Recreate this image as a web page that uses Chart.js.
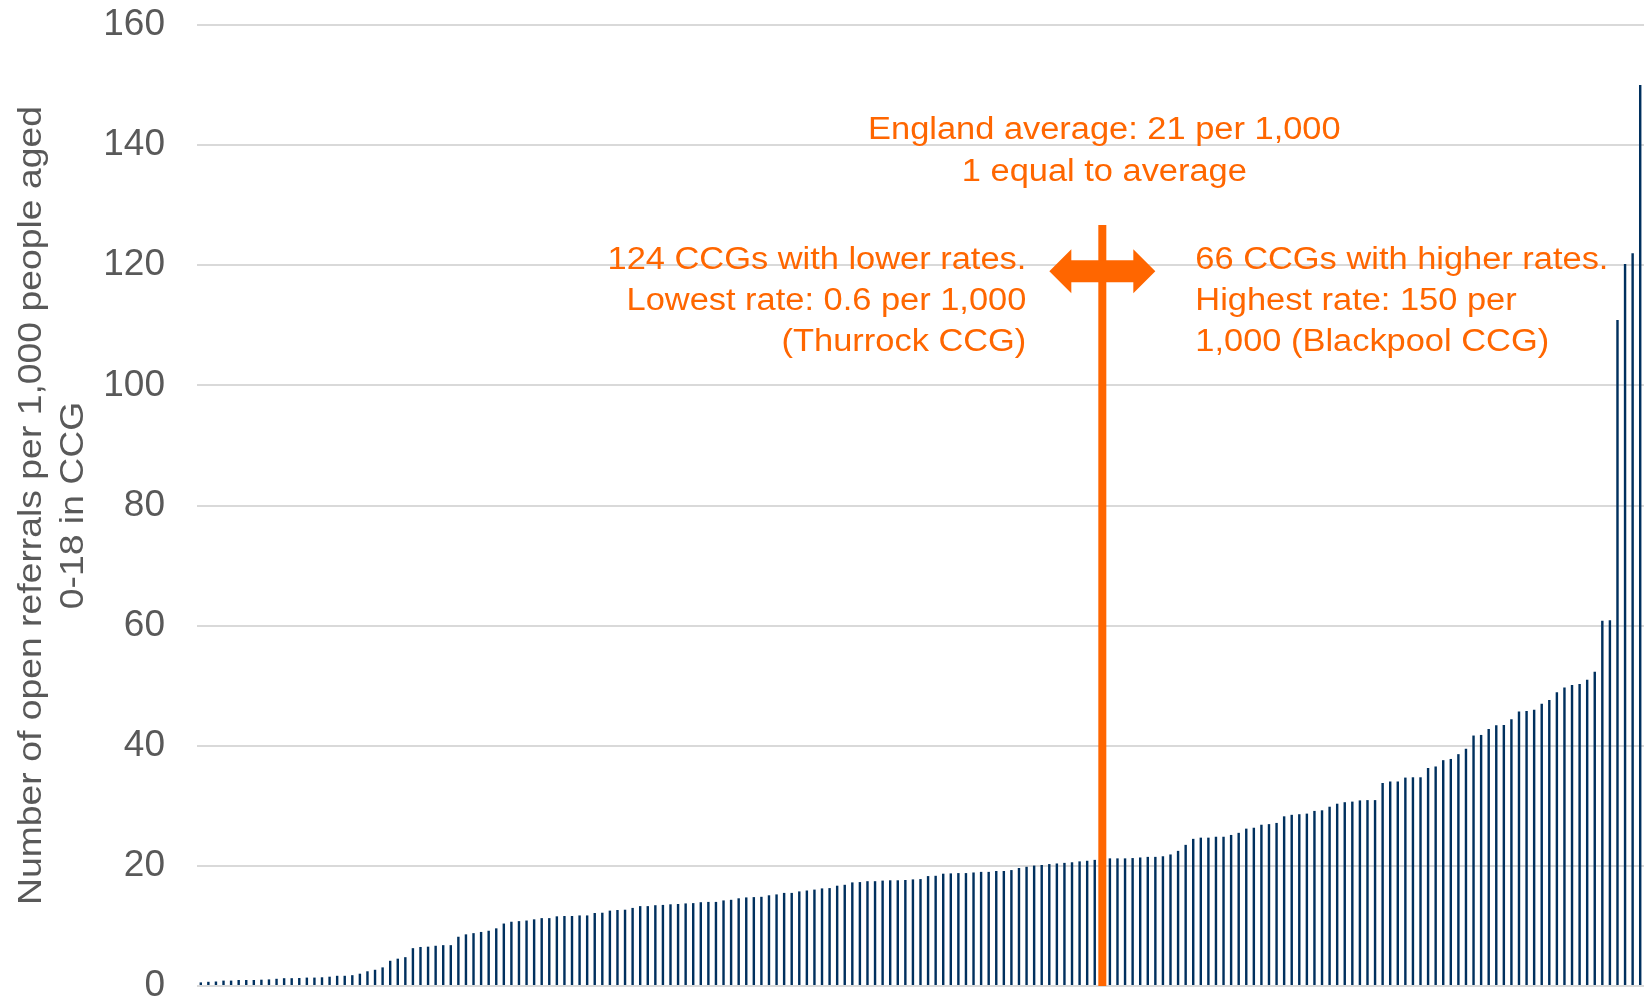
<!DOCTYPE html>
<html>
<head>
<meta charset="utf-8">
<script src="https://cdn.jsdelivr.net/npm/chart.js@4.4.1/dist/chart.umd.min.js"></script>
<style>
  html, body { margin: 0; padding: 0; background: #fff; }
  #wrap { width: 1644px; height: 1000px; }
</style>
</head>
<body>
<div id="wrap"><canvas id="chart" width="1644" height="1000"></canvas></div>
<script>
// open referrals per 1,000 people aged 0-18, one bar per CCG, sorted low to high
const rates = [
  0.6, 0.7, 0.75, 0.9, 0.9, 1.0, 1.0, 1.0, 1.05, 1.1, 1.2, 1.3, 1.3, 1.33, 1.4, 1.4, 1.45, 1.55, 1.7, 1.7,
  1.8, 2.05, 2.45, 2.7, 3.1, 4.2, 4.55, 4.8, 6.3, 6.5, 6.55, 6.7, 6.8, 6.8, 8.2, 8.6, 8.8, 9.0, 9.2,
  9.6, 10.4, 10.7, 10.8, 10.9, 11.1, 11.3, 11.3, 11.6, 11.65, 11.65, 11.75, 11.75, 12.15, 12.2, 12.55,
  12.65, 12.7, 13.0, 13.3, 13.3, 13.45, 13.5, 13.6, 13.65, 13.75, 13.8, 13.95, 14.0, 14.0, 14.25, 14.35,
  14.6, 14.75, 14.8, 14.85, 15.1, 15.25,
  15.5, 15.5, 15.75, 15.9, 16.05, 16.25, 16.3, 16.7, 16.85, 17.25, 17.3, 17.45, 17.45, 17.55, 17.6, 17.6,
  17.65, 17.75, 17.8, 18.3, 18.35, 18.7, 18.75, 18.8, 18.8, 18.9, 19.0, 19.0, 19.15, 19.15, 19.3, 19.65,
  19.85, 20.05, 20.15, 20.3, 20.4, 20.5,
  20.6, 20.75, 20.85, 21.0, 21.0, 21.25, 21.25, 21.25, 21.3, 21.4, 21.5, 21.5, 21.6, 21.9, 22.5, 23.5,
  24.5, 24.7, 24.7, 24.85, 24.85, 25.15, 25.5, 26.2, 26.35, 26.85, 26.95, 27.15, 28.25, 28.5, 28.6, 28.7,
  29.15, 29.25, 29.85, 30.35, 30.6, 30.7,
  30.9, 30.95, 30.95, 33.8, 34.05, 34.05, 34.7, 34.75, 34.75, 36.3, 36.55, 37.6, 37.8, 38.6, 39.5, 41.7,
  41.8, 42.8, 43.4, 43.45, 44.4, 45.7, 45.8, 46.0, 47.0, 47.6, 48.9, 49.7, 50.1, 50.3, 51.0, 52.3, 60.8,
  60.9, 110.9, 120.2, 122.0, 150
];
const ccgLabels = rates.map((_, i) => "CCG " + (i + 1));
const yTicks = [0, 20, 40, 60, 80, 100, 120, 140, 160];

const titleLines = ["Number of open referrals per 1,000 people aged", "0-18 in CCG"];
const averageIndex = 119;        // bar that equals the England average
const averageLineTop = 126.7;    // y value where the orange marker starts
const arrowValue = 119;          // y value of the double arrow
const averageNote = ["England average: 21 per 1,000", "1 equal to average"];
const lowerNote = ["124 CCGs with lower rates.", "Lowest rate: 0.6 per 1,000", "(Thurrock CCG)"];
const higherNote = ["66 CCGs with higher rates.", "Highest rate: 150 per", "1,000 (Blackpool CCG)"];

const ORANGE = "#ff6600";
const NAVY = "#00305e";
const GREY_TEXT = "#595959";
const FONT = "'Liberation Sans', Arial, sans-serif";

function wideText(ctx, str, x, y, align) {
  ctx.save();
  ctx.translate(x, y);
  ctx.scale(1.11, 1);
  ctx.textAlign = align;
  ctx.textBaseline = "alphabetic";
  ctx.fillText(str, 0, 0);
  ctx.restore();
}

const overlay = {
  id: "overlay",
  afterDraw(chart) {
    const ctx = chart.ctx;
    const x = chart.scales.x, y = chart.scales.y;
    const lx = x.getPixelForValue(averageIndex);
    const top = y.getPixelForValue(averageLineTop);
    const base = y.getPixelForValue(0);
    const cy = y.getPixelForValue(arrowValue);

    ctx.save();
    ctx.fillStyle = ORANGE;
    ctx.fillRect(lx - 4, top, 8, base - top);

    // double headed arrow
    ctx.beginPath();
    ctx.moveTo(lx - 53, cy);
    ctx.lineTo(lx - 31, cy - 22);
    ctx.lineTo(lx - 31, cy - 11);
    ctx.lineTo(lx + 31, cy - 11);
    ctx.lineTo(lx + 31, cy - 22);
    ctx.lineTo(lx + 53, cy);
    ctx.lineTo(lx + 31, cy + 22);
    ctx.lineTo(lx + 31, cy + 11);
    ctx.lineTo(lx - 31, cy + 11);
    ctx.lineTo(lx - 31, cy + 22);
    ctx.closePath();
    ctx.fill();

    ctx.font = "31px " + FONT;
    averageNote.forEach((s, i) => wideText(ctx, s, lx + 2, cy - 132 + i * 42, "center"));
    lowerNote.forEach((s, i) => wideText(ctx, s, lx - 76, cy - 2 + i * 41, "right"));
    higherNote.forEach((s, i) => wideText(ctx, s, lx + 93, cy - 2 + i * 41, "left"));

    // rotated axis title, squeezed along its length like the original
    ctx.fillStyle = GREY_TEXT;
    ctx.font = "34px " + FONT;
    const mid = (chart.chartArea.top + chart.chartArea.bottom) / 2;
    const sx = 799 / ctx.measureText(titleLines[0]).width;
    [32, 74].forEach((px, i) => {
      ctx.save();
      ctx.translate(px, mid);
      ctx.rotate(-Math.PI / 2);
      ctx.scale(sx, 1);
      ctx.textAlign = "center";
      ctx.textBaseline = "middle";
      ctx.fillText(titleLines[i], 0, 0);
      ctx.restore();
    });
    ctx.restore();
  }
};

new Chart(document.getElementById("chart"), {
  type: "bar",
  data: {
    labels: ccgLabels,
    datasets: [{
      data: rates,
      backgroundColor: NAVY,
      borderWidth: 0,
      barPercentage: 0.32,
      categoryPercentage: 1
    }]
  },
  options: {
    responsive: false,
    animation: false,
    devicePixelRatio: 1,
    layout: { padding: { top: 25, bottom: 14, left: 0, right: 0 } },
    plugins: { legend: { display: false }, tooltip: { enabled: false } },
    scales: {
      x: {
        grid: { display: false, drawTicks: false },
        border: { display: false },
        ticks: { display: false },
        afterFit: (axis) => { axis.height = 0; }
      },
      y: {
        min: 0,
        max: 160,
        afterBuildTicks: (axis) => { axis.ticks = yTicks.map(v => ({ value: v })); },
        afterFit: (axis) => {
          axis.width = 197;
          axis.paddingTop = 0;
          axis.paddingBottom = 0;
        },
        grid: { color: "#d9d9d9", lineWidth: 2, drawTicks: false },
        border: { display: false },
        ticks: {
          padding: 32,
          color: GREY_TEXT,
          font: { family: FONT, size: 37 }
        }
      }
    }
  },
  plugins: [overlay]
});
</script>
</body>
</html>
